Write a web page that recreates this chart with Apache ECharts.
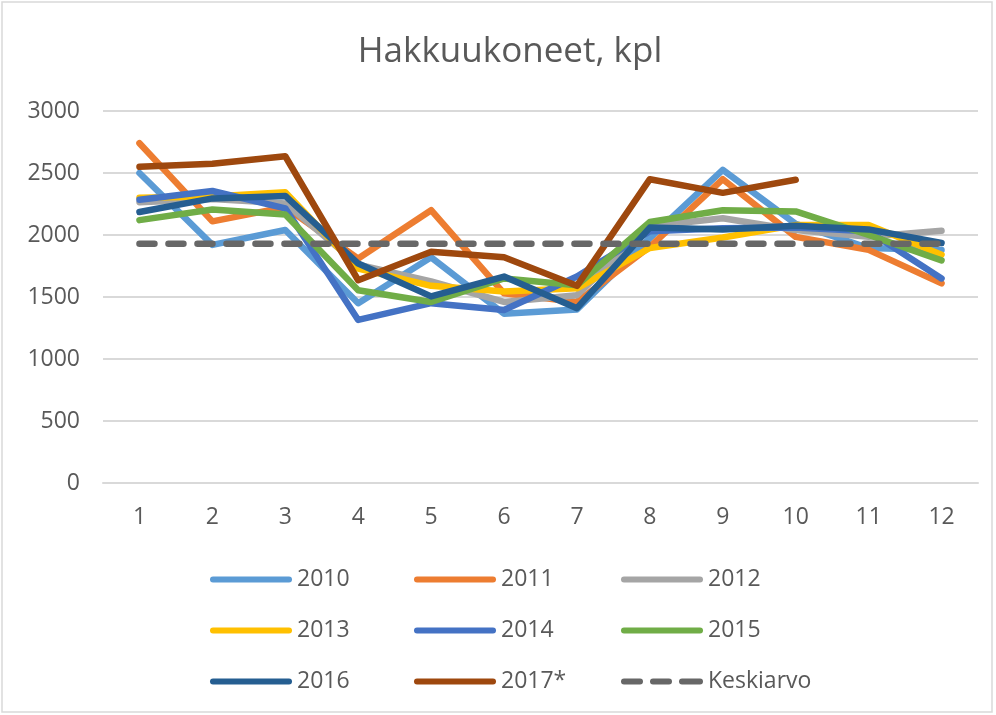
<!DOCTYPE html>
<html>
<head>
<meta charset="utf-8">
<script src="https://cdn.jsdelivr.net/npm/echarts@6/dist/echarts.min.js"></script>
<style>
  html, body { margin: 0; padding: 0; background: #ffffff; }
  #chart { width: 996px; height: 715px; }
</style>
</head>
<body>
<div id="chart"></div>
<script>
// Months on the category axis
const months = ['1', '2', '3', '4', '5', '6', '7', '8', '9', '10', '11', '12'];

// Monthly harvester counts by year
const y2010 = [2500, 1920, 2040, 1450, 1820, 1365, 1400, 1975, 2525, 2090, 1895, 1880];
const y2011 = [2740, 2110, 2225, 1810, 2200, 1530, 1460, 1905, 2450, 1985, 1880, 1610];
const y2012 = [2265, 2290, 2255, 1760, 1625, 1460, 1515, 2070, 2135, 2040, 1985, 2035];
const y2013 = [2300, 2310, 2345, 1730, 1590, 1545, 1570, 1895, 1980, 2080, 2080, 1840];
const y2014 = [2285, 2355, 2215, 1315, 1450, 1395, 1665, 2030, 2055, 2060, 2030, 1650];
const y2015 = [2120, 2205, 2165, 1555, 1460, 1650, 1595, 2105, 2200, 2190, 2000, 1795];
const y2016 = [2185, 2295, 2315, 1770, 1505, 1665, 1410, 2060, 2045, 2075, 2045, 1935];
const y2017 = [2550, 2575, 2635, 1635, 1865, 1820, 1590, 2450, 2340, 2445, null, null];
const average = [1930, 1930, 1930, 1930, 1930, 1930, 1930, 1930, 1930, 1930, 1930, 1930];

const seriesDefs = [
  { name: '2010', data: y2010, color: '#5B9BD5' },
  { name: '2011', data: y2011, color: '#ED7D31' },
  { name: '2012', data: y2012, color: '#A5A5A5' },
  { name: '2013', data: y2013, color: '#FFC000' },
  { name: '2014', data: y2014, color: '#4472C4' },
  { name: '2015', data: y2015, color: '#70AD47' },
  { name: '2016', data: y2016, color: '#255E91' },
  { name: '2017*', data: y2017, color: '#9E480E' },
  { name: 'Keskiarvo', data: average, color: '#676767', dashed: true }
];

const textColor = '#595959';
const fontFamily = '"Open Sans", "Liberation Sans", sans-serif';

// Legend swatches: a rounded bar for solid lines, three rounded dashes for the average
const solidIcon = 'path://M3,0 L79,0 A3,3 0 0 1 79,6 L3,6 A3,3 0 0 1 3,0 Z';
const dashIcon = 'path://M3,0 L19,0 A3,3 0 0 1 19,6 L3,6 A3,3 0 0 1 3,0 Z' +
  ' M32,0 L48,0 A3,3 0 0 1 48,6 L32,6 A3,3 0 0 1 32,0 Z' +
  ' M61,0 L79,0 A3,3 0 0 1 79,6 L61,6 A3,3 0 0 1 61,0 Z';

const legendText = { color: textColor, fontSize: 23, lineHeight: 23, fontFamily: fontFamily, padding: [0, 0, 0, 0] };
function legendColumn(names, left) {
  return {
    orient: 'vertical',
    left: left,
    top: 563,
    itemWidth: 82,
    itemHeight: 6,
    itemGap: 28,
    textStyle: legendText,
    data: names.map(n => ({ name: n, icon: n === 'Keskiarvo' ? dashIcon : solidIcon }))
  };
}

const chart = echarts.init(document.getElementById('chart'), null, { renderer: 'canvas' });

chart.setOption({
  animation: false,
  backgroundColor: '#ffffff',
  title: {
    text: 'Hakkuukoneet, kpl',
    left: 505,
    textAlign: 'center',
    top: 30,
    textStyle: { color: textColor, fontSize: 35, fontWeight: 'normal', fontFamily: fontFamily }
  },
  graphic: [{
    type: 'rect',
    shape: { x: 2, y: 2, width: 990, height: 710 },
    style: { fill: 'none', stroke: '#d9d9d9', lineWidth: 1.5 },
    silent: true
  }],
  legend: [
    legendColumn(['2010', '2013', '2016'], 205),
    legendColumn(['2011', '2014', '2017*'], 409),
    legendColumn(['2012', '2015', 'Keskiarvo'], 616)
  ],
  grid: { left: 103, right: 18, top: 111, bottom: 232, containLabel: false },
  xAxis: {
    type: 'category',
    data: months,
    boundaryGap: true,
    axisLine: { show: true, lineStyle: { color: '#d9d9d9', width: 2 } },
    axisTick: { show: false },
    axisLabel: { color: textColor, fontSize: 23, fontFamily: fontFamily, margin: 23 }
  },
  yAxis: {
    type: 'value',
    min: 0,
    max: 3000,
    interval: 500,
    axisLine: { show: false },
    axisTick: { show: false },
    splitLine: { lineStyle: { color: '#d9d9d9', width: 2 } },
    axisLabel: {
      color: textColor, fontSize: 23, fontFamily: fontFamily, margin: 23,
      formatter: v => String(v)
    }
  },
  series: seriesDefs.map(s => ({
    name: s.name,
    type: 'line',
    data: s.data,
    color: s.color,
    symbol: 'none',
    showSymbol: false,
    connectNulls: false,
    lineStyle: {
      color: s.color,
      width: 6.5,
      cap: 'round',
      join: 'round',
      type: s.dashed ? [15, 14] : 'solid'
    }
  }))
});
</script>
</body>
</html>
